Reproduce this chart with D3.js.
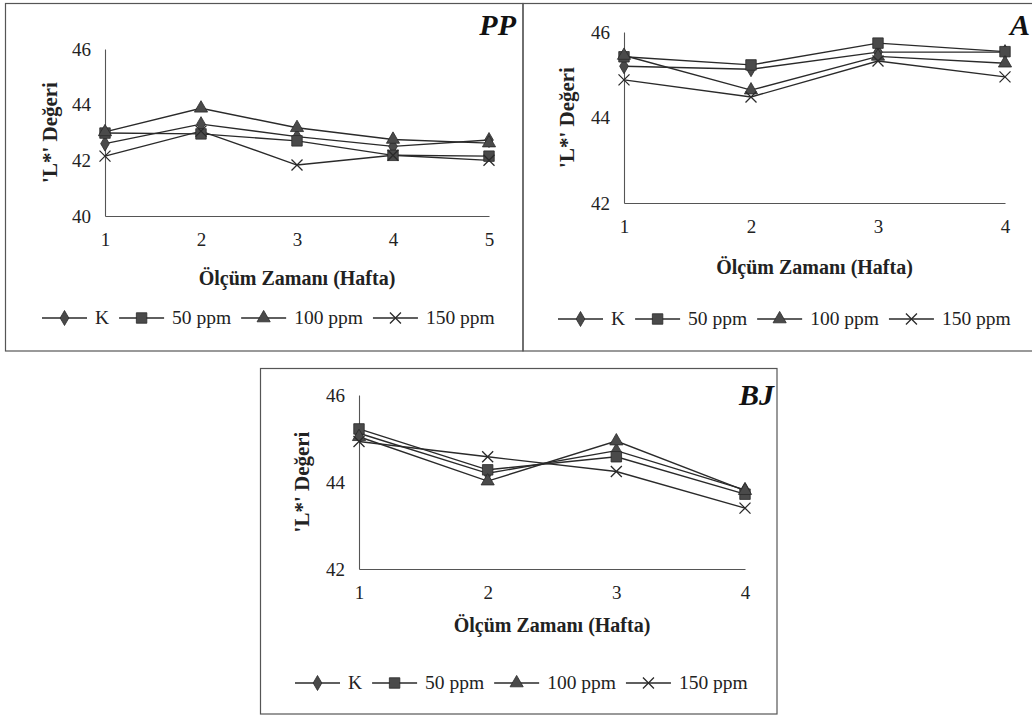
<!DOCTYPE html>
<html>
<head>
<meta charset="utf-8">
<script src="https://cdn.jsdelivr.net/npm/d3@7"></script>
<style>
  body { margin: 0; background: #fff; }
  svg { display: block; }
</style>
</head>
<body>
<svg width="1032" height="717"></svg>
<script>
// series names and tick labels
const seriesNames = ['K', '50 ppm', '100 ppm', '150 ppm'];
const ppWeeks = [1, 2, 3, 4, 5];
const aWeeks = [1, 2, 3, 4];
const bjWeeks = [1, 2, 3, 4];
const ppYTicks = [40, 42, 44, 46];
const aYTicks = [42, 44, 46];
const bjYTicks = [42, 44, 46];

// PP values
const ppK   = [42.6, 43.3, 42.85, 42.5, 42.73];
const pp50  = [42.98, 42.95, 42.7, 42.18, 42.15];
const pp100 = [43.02, 43.87, 43.17, 42.75, 42.62];
const pp150 = [42.15, 43.05, 41.83, 42.18, 42.0];

// A values
const aK   = [45.2, 45.13, 45.53, 45.53];
const a50  = [45.42, 45.23, 45.74, 45.54];
const a100 = [45.45, 44.64, 45.43, 45.27];
const a150 = [44.88, 44.48, 45.32, 44.95];

// BJ values
const bjK   = [45.12, 44.2, 44.72, 43.82];
const bj50  = [45.22, 44.28, 44.58, 43.72];
const bj100 = [45.04, 44.02, 44.94, 43.8];
const bj150 = [44.93, 44.58, 44.24, 43.4];

const svg = d3.select('svg');
const serif = '"Liberation Serif", "Times New Roman", Times, serif';
const lineColor = '#2a2a2a';
const markColor = '#4a4a4a';

// marker drawing - one shape per series
const drawMarker = (sel, i) => {
    if (i === 0) {
        sel.append('path').attr('d', d3.symbol(d3.symbolDiamond, 65)())
            .attr('fill', markColor).attr('stroke', lineColor).attr('stroke-width', 0.8);
    } else if (i === 1) {
        sel.append('path').attr('d', d3.symbol(d3.symbolSquare, 110)())
            .attr('fill', markColor).attr('stroke', lineColor).attr('stroke-width', 0.8);
    } else if (i === 2) {
        sel.append('path').attr('d', d3.symbol(d3.symbolTriangle, 75)())
            .attr('fill', markColor).attr('stroke', lineColor).attr('stroke-width', 0.8);
    } else {
        sel.append('path').attr('d', 'M-5.5,-5.5L5.5,5.5M-5.5,5.5L5.5,-5.5')
            .attr('fill', 'none').attr('stroke', lineColor).attr('stroke-width', 1.3);
    }
};

const drawPanel = (p) => {
    // panel frame
    svg.append('rect')
        .attr('x', p.frame[0]).attr('y', p.frame[1])
        .attr('width', p.frame[2]).attr('height', p.frame[3])
        .attr('fill', 'none').attr('stroke', '#555').attr('stroke-width', 1.2);

    const x = d3.scaleLinear()
        .domain(d3.extent(p.weeks))
        .range([p.left, p.right]);
    const y = d3.scaleLinear()
        .domain(d3.extent(p.yTicks))
        .range([p.bottom, p.top]);

    const g = svg.append('g');

    // axes
    const ax = g.append('g')
        .attr('transform', `translate(0,${p.bottom})`)
        .call(d3.axisBottom(x).tickValues(p.weeks).tickFormat(d3.format('d')).tickSize(0).tickPadding(17));
    const ay = g.append('g')
        .attr('transform', `translate(${p.left},0)`)
        .call(d3.axisLeft(y).tickValues(p.yTicks).tickFormat(d3.format('d')).tickSize(0).tickPadding(14));
    [ax, ay].forEach(a => {
        a.attr('font-family', serif).attr('font-size', 19);
        a.select('.domain').attr('stroke', '#555').attr('stroke-width', 1.1);
        a.selectAll('text').attr('fill', '#222');
    });

    // lines and markers
    const line = d3.line().x((d, i) => x(p.weeks[i])).y(d => y(d));
    p.series.forEach((vals) => {
        g.append('path').datum(vals)
            .attr('d', line)
            .attr('fill', 'none')
            .attr('stroke', lineColor)
            .attr('stroke-width', 1.4);
    });
    p.series.forEach((vals, si) => {
        vals.forEach((v, i) => {
            const m = g.append('g').attr('transform', `translate(${x(p.weeks[i])},${y(v)})`);
            drawMarker(m, si);
        });
    });

    // axis titles
    svg.append('text')
        .attr('x', (p.left + p.right) / 2).attr('y', p.xTitleY)
        .attr('text-anchor', 'middle')
        .attr('font-family', serif).attr('font-size', 20).attr('font-weight', 'bold')
        .attr('fill', '#222')
        .text('Ölçüm Zamanı (Hafta)');
    svg.append('text')
        .attr('transform', `translate(${p.yTitleX},${(p.top + p.bottom) / 2}) rotate(-90)`)
        .attr('text-anchor', 'middle')
        .attr('font-family', serif).attr('font-size', 21).attr('font-weight', 'bold')
        .attr('fill', '#222')
        .text("'L*' Değeri");

    // panel label
    svg.append('text')
        .attr('x', p.label[0]).attr('y', p.label[1])
        .attr('text-anchor', p.label[2])
        .attr('font-family', serif)
        .attr('font-size', 30).attr('font-weight', 'bold').attr('font-style', 'italic')
        .attr('fill', '#111')
        .text(p.name);

    // legend
    let lx = p.legend[0];
    const ly = p.legend[1];
    seriesNames.forEach((name, si) => {
        const item = svg.append('g');
        item.append('line')
            .attr('x1', lx).attr('x2', lx + 45).attr('y1', ly).attr('y2', ly)
            .attr('stroke', lineColor).attr('stroke-width', 1.4);
        const m = item.append('g').attr('transform', `translate(${lx + 22.5},${ly})`);
        drawMarker(m, si);
        const t = item.append('text')
            .attr('x', lx + 53).attr('y', ly + 6)
            .attr('font-family', serif).attr('font-size', 19.5).attr('fill', '#222')
            .text(name);
        lx += 53 + t.node().getComputedTextLength() + 10;
    });
};

drawPanel({
    name: 'PP', weeks: ppWeeks, yTicks: ppYTicks, series: [ppK, pp50, pp100, pp150],
    frame: [5.5, 3.5, 517.5, 347.5],
    left: 105, right: 489, top: 49, bottom: 216,
    xTitleY: 285, yTitleX: 57, label: [516, 35, 'end'], legend: [42, 318]
});
drawPanel({
    name: 'A', weeks: aWeeks, yTicks: aYTicks, series: [aK, a50, a100, a150],
    frame: [523, 3.5, 520, 347.5],
    left: 624, right: 1005, top: 32, bottom: 203,
    xTitleY: 274, yTitleX: 574, label: [1010, 35, 'start'], legend: [558, 319]
});
drawPanel({
    name: 'BJ', weeks: bjWeeks, yTicks: bjYTicks, series: [bjK, bj50, bj100, bj150],
    frame: [260.5, 368.5, 516.5, 345.5],
    left: 359, right: 745, top: 395, bottom: 569,
    xTitleY: 632, yTitleX: 309, label: [774, 405, 'end'], legend: [295, 683]
});
</script>
</body>
</html>
